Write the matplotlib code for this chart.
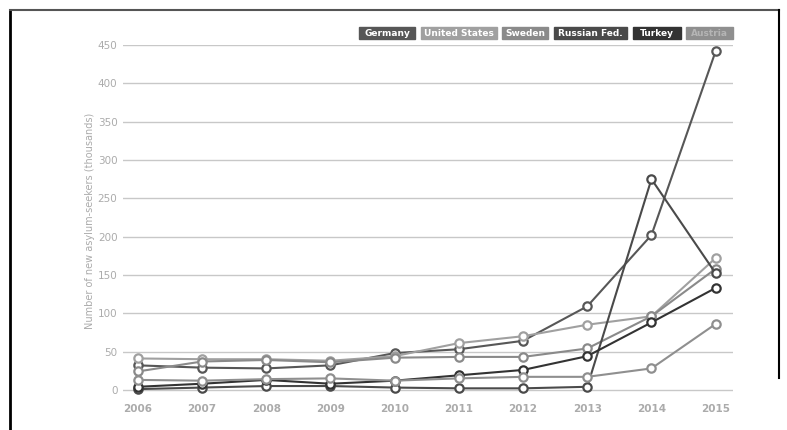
import matplotlib.pyplot as plt
from matplotlib.lines import Line2D

years = [2006, 2007, 2008, 2009, 2010, 2011, 2012, 2013, 2014, 2015]

germany = [32, 29, 28, 32, 48, 53, 64, 109, 202, 442]
united_states = [41, 40, 40, 38, 44, 61, 70, 85, 96, 172]
sweden = [24, 37, 39, 36, 42, 43, 43, 54, 96, 158]
russia = [1, 3, 5, 5, 3, 2, 2, 4, 275, 152]
turkey = [4, 8, 13, 8, 12, 19, 26, 44, 88, 133]
austria = [13, 12, 14, 15, 12, 15, 17, 17, 28, 86]

names = ["Germany", "United States", "Sweden", "Russian Fed.", "Turkey", "Austria"]
series = [germany, united_states, sweden, russia, turkey, austria]
colors = ["#575757", "#a0a0a0", "#8a8a8a", "#4a4a4a", "#333333", "#8f8f8f"]
text_colors = ["white", "white", "white", "white", "white", "#b5b5b5"]

W, H = 787, 430
fig = plt.figure(figsize=(W / 100, H / 100), dpi=100)
ax = fig.add_axes([123 / W, 1 - 396 / H, (733 - 123) / W, (396 - 45) / H])

# draw order: lighter first, dark on top
for idx in [5, 1, 2, 0, 3, 4]:
    ax.plot(years, series[idx], color=colors[idx], lw=1.5, marker="o", ms=6,
            mfc="white", mec=colors[idx], mew=1.6, zorder=3 + idx)

ax.set_xlim(2006 - 0.23, 2015 + 0.27)
ax.set_ylim(-8, 450)
ax.set_yticks(range(0, 451, 50))
ax.set_xticks(years)
ax.yaxis.grid(True, color="#c8c8c8", lw=1)
ax.set_axisbelow(True)
for s in ax.spines.values():
    s.set_visible(False)
ax.tick_params(axis="both", length=0, colors="#ababab", labelsize=7.5)
ax.tick_params(axis="y", pad=4)
ax.tick_params(axis="x", pad=6)
for lab in ax.get_xticklabels():
    lab.set_fontweight("bold")
ax.set_ylabel("Number of new asylum-seekers (thousands)", fontsize=7,
              color="#ababab", labelpad=2)

# legend boxes along the top
box_x = [359, 421, 502, 554, 633, 686]
box_w = [56, 76, 46, 73, 48, 47]
for name, c, tc, x0, w in zip(names, colors, text_colors, box_x, box_w):
    fig.patches.append(plt.Rectangle((x0 / W, 1 - 39 / H), w / W, 12 / H,
                                     transform=fig.transFigure, color=c))
    fig.text((x0 + w / 2) / W, 1 - 33 / H, name, ha="center", va="center",
             fontsize=6.5, fontweight="bold", color=tc)

# outer frame
fig.add_artist(Line2D([10 / W, 10 / W], [0, 1 - 10 / H], transform=fig.transFigure,
                      color="black", lw=2))
fig.add_artist(Line2D([10 / W, 779 / W], [1 - 10 / H, 1 - 10 / H],
                      transform=fig.transFigure, color="#555555", lw=1.5))
fig.add_artist(Line2D([779 / W, 779 / W], [1 - 10 / H, 1 - 378 / H],
                      transform=fig.transFigure, color="black", lw=1.5))

fig.savefig("out.png", dpi=100)
